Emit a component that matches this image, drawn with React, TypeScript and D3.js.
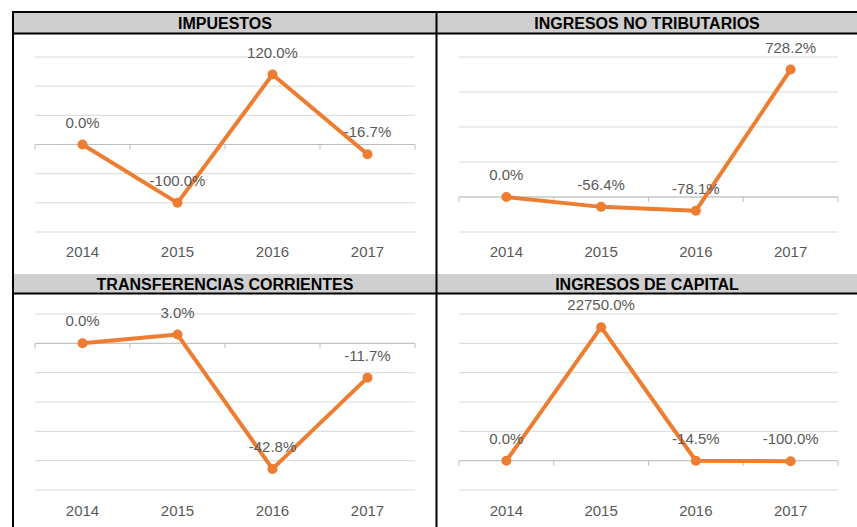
import React from "react";
import * as d3 from "d3";

const years = ["2014", "2015", "2016", "2017"];

const titles = [
  "IMPUESTOS",
  "INGRESOS NO TRIBUTARIOS",
  "TRANSFERENCIAS CORRIENTES",
  "INGRESOS DE CAPITAL",
];

const impuestos = [0.0, -100.0, 120.0, -16.7];
const noTributarios = [0.0, -56.4, -78.1, 728.2];
const transferencias = [0.0, 3.0, -42.8, -11.7];
const capital = [0.0, 22750.0, -14.5, -100.0];

const domains: [number, number, number][] = [
  [-150, 150, 50],
  [-200, 800, 200],
  [-50, 10, 10],
  [-5000, 25000, 5000],
];

const W = 857;
const H = 527;
const ORANGE = "#ED7D31";
const GRID = "#D9D9D9";
const TEXT = "#595959";
const FONT = "'Liberation Sans', Arial, sans-serif";

type PanelProps = {
  title: string;
  values: number[];
  dom: [number, number, number];
  left: number;
  right: number;
  headTop: number;
  headBottom: number;
  plotX: [number, number];
  plotY: [number, number];
  axisLabelY: number;
};

function Panel(p: PanelProps) {
  const x = d3.scaleBand<string>().domain(years).range(p.plotX).padding(0);
  const y = d3.scaleLinear().domain([p.dom[0], p.dom[1]]).range(p.plotY);
  const ticks = d3.range(p.dom[0], p.dom[1] + p.dom[2] / 2, p.dom[2]);
  const cx = (i: number) => (x(years[i]) as number) + x.bandwidth() / 2;
  const line = d3
    .line<number>()
    .x((_, i) => cx(i))
    .y((d) => y(d));
  const y0 = y(0);
  const boundaries = d3.range(0, years.length + 1).map((i) => p.plotX[0] + i * x.bandwidth());
  return (
    <g>
      <rect x={p.left} y={p.headTop} width={p.right - p.left} height={p.headBottom - p.headTop} fill="#CFCFCF" />
      <text
        x={(p.left + p.right) / 2}
        y={(p.headTop + p.headBottom) / 2}
        dy="0.36em"
        textAnchor="middle"
        fontFamily={FONT}
        fontWeight="bold"
        fontSize={16}
        fill="#000"
      >
        {p.title}
      </text>
      {ticks.map((t) => (
        <line key={t} x1={p.plotX[0]} x2={p.plotX[1]} y1={y(t)} y2={y(t)} stroke={GRID} strokeWidth={1} />
      ))}
      <line x1={p.plotX[0]} x2={p.plotX[1]} y1={y0} y2={y0} stroke="#BFBFBF" strokeWidth={1} />
      {boundaries.map((bx, i) => (
        <line key={i} x1={bx} x2={bx} y1={y0} y2={y0 + 5} stroke="#BFBFBF" strokeWidth={1} />
      ))}
      {years.map((yr, i) => (
        <text
          key={yr}
          x={cx(i)}
          y={p.axisLabelY}
          dy="0.36em"
          textAnchor="middle"
          fontFamily={FONT}
          fontSize={15}
          fill={TEXT}
        >
          {yr}
        </text>
      ))}
      <path d={line(p.values) as string} fill="none" stroke={ORANGE} strokeWidth={4} strokeLinejoin="round" />
      {p.values.map((v, i) => (
        <circle key={i} cx={cx(i)} cy={y(v)} r={5} fill={ORANGE} />
      ))}
      {p.values.map((v, i) => (
        <text
          key={"l" + i}
          x={cx(i)}
          y={y(v) - 17}
          textAnchor="middle"
          fontFamily={FONT}
          fontSize={15}
          fill={TEXT}
        >
          {v.toFixed(1) + "%"}
        </text>
      ))}
    </g>
  );
}

export default function App() {
  const series = [impuestos, noTributarios, transferencias, capital];
  const cols = [
    { left: 13, right: 437, plotX: [35, 415] as [number, number] },
    { left: 437, right: W, plotX: [459, 838] as [number, number] },
  ];
  const rows = [
    { headTop: 12, headBottom: 33.5, plotY: [232, 57] as [number, number], axisLabelY: 252 },
    { headTop: 274, headBottom: 293.5, plotY: [490, 314] as [number, number], axisLabelY: 511 },
  ];
  return (
    <svg
      width={W}
      height={H}
      style={{ position: "absolute", left: 0, top: 0, background: "#fff" }}
    >
      <rect x={0} y={0} width={W} height={H} fill="#fff" />
      {series.map((vals, k) => {
        const c = cols[k % 2];
        const r = rows[Math.floor(k / 2)];
        return (
          <Panel
            key={k}
            title={titles[k]}
            values={vals}
            dom={domains[k]}
            left={c.left}
            right={c.right}
            headTop={r.headTop}
            headBottom={r.headBottom}
            plotX={c.plotX}
            plotY={r.plotY}
            axisLabelY={r.axisLabelY}
          />
        );
      })}
      <line x1={12} x2={W} y1={12} y2={12} stroke="#000" strokeWidth={2} />
      <line x1={12} x2={W} y1={33.5} y2={33.5} stroke="#000" strokeWidth={2} />
      <line x1={12} x2={W} y1={293.5} y2={293.5} stroke="#000" strokeWidth={2} />
      <line x1={13} x2={13} y1={11} y2={H} stroke="#000" strokeWidth={2} />
      <line x1={436.5} x2={436.5} y1={11} y2={H} stroke="#000" strokeWidth={2} />
    </svg>
  );
}
